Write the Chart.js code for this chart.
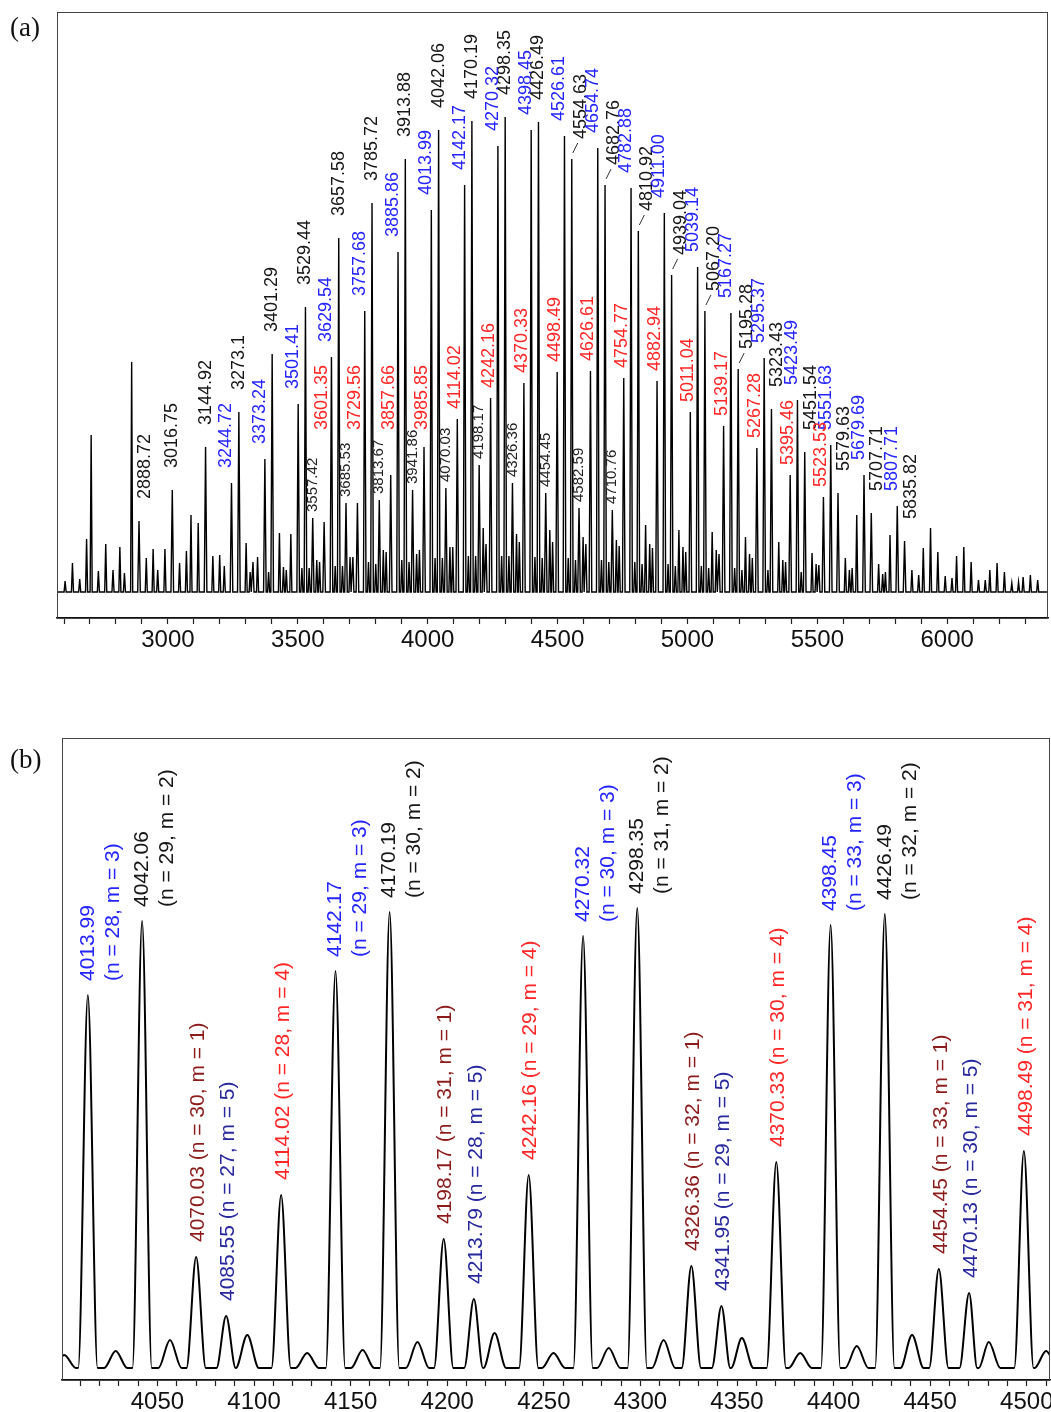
<!DOCTYPE html>
<html>
<head>
<meta charset="utf-8">
<title>MALDI spectrum</title>
<script src="https://cdn.jsdelivr.net/npm/chart.js@4.4.1/dist/chart.umd.min.js"></script>
<style>
  html, body { margin: 0; padding: 0; background: #fff; }
  #page { position: relative; width: 1051px; height: 1412px; overflow: hidden; }
  .panel { position: absolute; left: 0; width: 1051px; }
  #overview-wrap { top: 0; height: 680px; }
  #zoom-wrap { top: 690px; height: 722px; }
  .tag { position: absolute; font-family: "Liberation Serif", "Times New Roman", serif; font-size: 27px; color: #111; }
</style>
</head>
<body>
<div id="page">
  <div class="panel" id="overview-wrap"><canvas id="overview" width="1051" height="680"></canvas></div>
  <div class="panel" id="zoom-wrap"><canvas id="zoom" width="1051" height="722"></canvas></div>
  <div class="tag" style="left:10px; top:12px">(a)</div>
  <div class="tag" style="left:10px; top:744px">(b)</div>
</div>
<script>
// ---------- (a) full range, intensities in a.u. above baseline ----------
const overviewTickLabels = [3000, 3500, 4000, 4500, 5000, 5500, 6000];
const overviewMinorTicks = [2600, 2700, 2800, 2900, 3100, 3200, 3300, 3400, 3600, 3700, 3800, 3900,
  4100, 4200, 4300, 4400, 4600, 4700, 4800, 4900, 5100, 5200, 5300, 5400, 5600, 5700, 5800, 5900,
  6100, 6200, 6300];

// m = 2 series (black labels)
const m2Mz = ['2888.72', '3016.75', '3144.92', '3273.1', '3401.29', '3529.44', '3657.58', '3785.72',
  '3913.88', '4042.06', '4170.19', '4298.35', '4426.49', '4554.63', '4682.76', '4810.92', '4939.04',
  '5067.20', '5195.28', '5323.43', '5451.54', '5579.63', '5707.71', '5835.82'];
const m2Int = [71, 102, 145, 180, 238, 285, 354, 389, 433, 462, 471, 475, 470, 433, 407, 361, 317,
  281, 223, 183, 140, 99, 79, 51];

// m = 3 series (blue labels)
const m3Mz = ['3244.72', '3373.24', '3501.41', '3629.54', '3757.68', '3885.86', '4013.99', '4142.17',
  '4270.32', '4398.45', '4526.61', '4654.74', '4782.88', '4911.00', '5039.14', '5167.27', '5295.37',
  '5423.49', '5551.63', '5679.69', '5807.71'];
const m3Int = [109, 133, 188, 235, 281, 340, 382, 407, 446, 462, 456, 444, 404, 379, 325, 279, 234,
  192, 147, 117, 86];

// m = 4 series (red labels)
const m4Mz = ['3601.35', '3729.56', '3857.66', '3985.85', '4114.02', '4242.16', '4370.33', '4498.49',
  '4626.61', '4754.77', '4882.94', '5011.04', '5139.17', '5267.28', '5395.46', '5523.53'];
const m4Int = [70, 89, 117, 145, 173, 194, 209, 220, 221, 214, 211, 180, 166, 144, 117, 95];

// m = 1 series (small labels)
const m1Mz = ['3557.42', '3685.53', '3813.67', '3941.86', '4070.03', '4198.17', '4326.36', '4454.45',
  '4582.59', '4710.76'];
const m1Int = [74, 89, 92, 102, 104, 127, 109, 99, 84, 82];

// unlabelled peaks (series continuations, m = 5 and satellites)
const otherMz = [
  2604.2, 2632.5, 2660.4, 2686.9, 2704.5, 2732.3, 2760.6, 2788.6, 2815.0, 2832.6, 2860.4, 2916.7,
  2943.1, 2960.7, 2988.5, 3044.8, 3071.2, 3088.8, 3116.6, 3173.0, 3199.3, 3217.0, 3301.1, 3316.6,
  3327.5, 3345.1, 3387.6, 3429.3, 3444.8, 3455.7, 3473.2, 3515.8, 3543.8, 3573.0, 3583.8, 3644.0,
  3672.0, 3701.1, 3712.0, 3772.1, 3800.1, 3829.2, 3840.1, 3900.3, 3928.3, 3957.4, 3968.3, 4028.4,
  4056.5, 4085.6, 4096.5, 4156.6, 4184.6, 4213.8, 4224.6, 4284.7, 4312.8, 4342.0, 4352.8, 4412.9,
  4440.9, 4470.1, 4480.9, 4541.0, 4569.0, 4598.3, 4609.0, 4669.1, 4697.2, 4726.4, 4737.2, 4797.3,
  4825.3, 4838.9, 4854.6, 4865.3, 4925.4, 4953.4, 4967.1, 4982.7, 4993.4, 5053.5, 5081.6, 5095.2,
  5110.9, 5121.6, 5181.7, 5209.7, 5223.4, 5239.0, 5249.7, 5309.8, 5351.5, 5367.1, 5377.8, 5437.9,
  5479.7, 5495.3, 5505.9, 5607.8, 5623.4, 5634.0, 5651.7, 5736.0, 5751.5, 5762.1, 5779.8, 5864.1,
  5890.2, 5907.9, 5935.8, 5963.9, 5992.3, 6018.4, 6036.0, 6063.9, 6092.1, 6120.4, 6146.5, 6164.1,
  6192.0, 6220.2, 6248.6, 6274.6, 6292.2, 6320.1, 6348.3];
const otherInt = [
  11, 29, 13, 53, 157, 21, 48, 22, 45, 19, 230, 34,
  43, 22, 43, 29, 41, 77, 69, 36, 37, 26, 49, 20,
  30, 35, 20, 59, 25, 22, 58, 24, 24, 32, 30, 26,
  26, 35, 35, 30, 28, 42, 40, 32, 30, 38, 42, 34,
  34, 45, 45, 36, 36, 64, 48, 36, 36, 58, 50, 35,
  34, 62, 50, 34, 32, 55, 48, 32, 30, 52, 46, 30,
  28, 67, 48, 44, 28, 26, 62, 45, 40, 26, 24, 60,
  42, 38, 24, 22, 55, 38, 34, 22, 50, 32, 30, 20,
  39, 28, 27, 34, 22, 24, 77, 28, 18, 20, 57, 22,
  17, 44, 64, 40, 16, 14, 36, 45, 30, 12, 12, 22,
  29, 20, 9, 10, 15, 17, 12];

// ---------- (b) expanded 4000-4510 region ----------
const zoomTickLabels = [4050, 4100, 4150, 4200, 4250, 4300, 4350, 4400, 4450, 4500];
const zoomMinorTicks = [4010, 4020, 4030, 4040, 4060, 4070, 4080, 4090, 4110, 4120, 4130, 4140,
  4160, 4170, 4180, 4190, 4210, 4220, 4230, 4240, 4260, 4270, 4280, 4290, 4310, 4320, 4330, 4340,
  4360, 4370, 4380, 4390, 4410, 4420, 4430, 4440, 4460, 4470, 4480, 4490, 4510];

const zoomMz = ['4013.99', '4042.06', '4070.03', '4085.55', '4114.02', '4142.17', '4170.19', '4198.17',
  '4213.79', '4242.16', '4270.32', '4298.35', '4326.36', '4341.95', '4370.33', '4398.45', '4426.49',
  '4454.45', '4470.13', '4498.49'];
const zoomN = [28, 29, 30, 27, 28, 29, 30, 31, 28, 29, 30, 31, 32, 29, 30, 33, 32, 33, 30, 31];
const zoomM = [3, 2, 1, 5, 4, 3, 2, 1, 5, 4, 3, 2, 1, 5, 4, 3, 2, 1, 5, 4];
const zoomInt = [373, 447, 111, 52, 173, 397, 456, 129, 69, 193, 432, 460, 102, 62, 206, 443, 454,
  99, 75, 217];

const zoomMinorMz = [4001.8, 4028.4, 4056.5, 4096.5, 4127.5, 4156.2, 4184.6, 4224.5, 4255.0, 4283.6,
  4312.0, 4352.5, 4382.7, 4412.0, 4440.6, 4480.3, 4510.0];
const zoomMinorInt = [13, 17, 28, 33, 15, 18, 26, 35, 15, 20, 28, 30, 15, 22, 33, 26, 17];

// ---------- helpers ----------
const SANS = '"Liberation Sans", Arial, Helvetica, sans-serif';
const mColor = { 1: '#8c1c1c', 2: '#161616', 3: '#2424ff', 4: '#ff2626', 5: '#27279e' };

// each peak becomes foot - apex - foot, so the trace returns to baseline between peaks
function peakTrace(peaks, xMin, xMax) {
  const pts = [{ x: xMin, y: 0 }];
  peaks.sort((a, b) => a.mz - b.mz).forEach(p => {
    pts.push({ x: p.mz - p.w, y: 0 }, { x: p.mz, y: p.h }, { x: p.mz + p.w, y: 0 });
  });
  pts.push({ x: xMax, y: 0 });
  pts.sort((a, b) => a.x - b.x);
  return pts;
}

function tickedAxis(min, max, majors, minors, height) {
  const all = majors.concat(minors).sort((a, b) => a - b);
  return {
    type: 'linear', min, max,
    afterBuildTicks: s => { s.ticks = all.map(v => ({ value: v })); },
    afterFit: s => { s.height = height; },
    ticks: {
      autoSkip: false, maxRotation: 0, padding: 2, color: '#111',
      font: { family: SANS, size: 24 },
      callback: v => (majors.includes(v) ? String(v) : '')
    },
    grid: { drawOnChartArea: false, drawTicks: true, tickLength: 6, color: '#222', tickWidth: 1.2 },
    border: { display: true, color: '#111', width: 1.5 }
  };
}

const frame = {
  id: 'frame',
  afterDraw(chart) {
    const { ctx, chartArea: a } = chart;
    ctx.save();
    ctx.strokeStyle = '#444';
    ctx.lineWidth = 1;
    ctx.strokeRect(a.left + 0.5, a.top + 0.5, a.right - a.left - 1, a.bottom - a.top);
    ctx.restore();
  }
};

// rotated text labels; each item: {mz, h, lines, color, size, gap, dx, floor, leader}
const peakLabels = {
  id: 'peakLabels',
  afterDatasetsDraw(chart, args, opts) {
    const { ctx, scales: { x, y } } = chart;
    ctx.save();
    opts.items.forEach(it => {
      const px = x.getPixelForValue(it.mz) + (it.dx || 0);
      const top = y.getPixelForValue(it.h);
      let start = top - it.gap;
      if (it.floor !== undefined) start = Math.min(start, y.getPixelForValue(it.floor));
      if (it.leader) {
        const lx = x.getPixelForValue(it.mz);
        ctx.strokeStyle = '#333';
        ctx.lineWidth = 1;
        ctx.beginPath();
        ctx.moveTo(lx + 1, top - 6);
        ctx.lineTo(lx + 6, top - 16);
        ctx.stroke();
      }
      ctx.fillStyle = it.color;
      ctx.font = it.size + 'px ' + SANS;
      ctx.textAlign = 'left';
      ctx.textBaseline = 'middle';
      it.lines.forEach((txt, i) => {
        ctx.save();
        ctx.translate(px + i * (it.lineStep || 0), start);
        ctx.rotate(-Math.PI / 2);
        ctx.fillText(txt, 0, 0);
        ctx.restore();
      });
    });
    ctx.restore();
  }
};

// ---------- (a) ----------
const OV_MIN = 2573, OV_MAX = 6388;
const ovPeaks = [];
const ovLabels = [];
const leaderLabels = ['4554.63', '4682.76', '4810.92', '4939.04', '5067.20', '5195.28'];

[[m2Mz, m2Int, mColor[2], 18, 22, 0],
 [m3Mz, m3Int, mColor[3], 18, 15, -5],
 [m4Mz, m4Int, mColor[4], 18, 10, -2],
 [m1Mz, m1Int, '#222', 15, 6, 0]].forEach(([mzs, ints, color, size, gap, dx]) => {
  mzs.forEach((s, i) => {
    const mz = parseFloat(s);
    ovPeaks.push({ mz, h: ints[i], w: 5 });
    const item = { mz, h: ints[i], lines: [s], color, size, gap, dx };
    if (color === mColor[2]) {
      if (leaderLabels.includes(s)) { item.leader = true; item.dx = 9; item.gap = 20; }
      else if (mz > 5300 || mz < 2900) item.dx = 6;
    }
    // the weak early red peaks carry their labels at a common height
    if (color === mColor[4] && mz < 4050) item.floor = 162;
    ovLabels.push(item);
  });
});
otherMz.forEach((mz, i) => ovPeaks.push({ mz, h: otherInt[i], w: 4 }));

new Chart(document.getElementById('overview'), {
  type: 'line',
  data: {
    datasets: [{
      data: peakTrace(ovPeaks, OV_MIN, OV_MAX),
      borderColor: '#000', borderWidth: 1.4, pointRadius: 0, tension: 0, fill: false
    }]
  },
  options: {
    responsive: false, animation: false, devicePixelRatio: 1,
    layout: { padding: { left: 57, right: 3, top: 12, bottom: 0 } },
    plugins: { legend: { display: false }, tooltip: { enabled: false }, peakLabels: { items: ovLabels } },
    scales: {
      x: tickedAxis(OV_MIN, OV_MAX, overviewTickLabels, overviewMinorTicks, 62),
      y: { display: false, min: -26, max: 580 }
    }
  },
  plugins: [frame, peakLabels]
});

// ---------- (b) ----------
const ZM_MIN = 4000.6, ZM_MAX = 4512;
const zmPeaks = [];
const zmLabels = [];
zoomMz.forEach((s, i) => {
  const mz = parseFloat(s);
  const m = zoomM[i];
  zmPeaks.push({ mz, h: zoomInt[i], w: 5 });
  const tag = '(n = ' + zoomN[i] + ', m = ' + m + ')';
  if (m === 2 || m === 3) {
    zmLabels.push({ mz, h: zoomInt[i], lines: [s, tag], lineStep: 25, color: mColor[m], size: 21, gap: 14, dx: 0 });
  } else {
    zmLabels.push({ mz, h: zoomInt[i], lines: [s + ' ' + tag], color: mColor[m], size: 21, gap: 15, dx: 2 });
  }
});
zoomMinorMz.forEach((mz, i) => zmPeaks.push({ mz, h: zoomMinorInt[i], w: 6 }));

new Chart(document.getElementById('zoom'), {
  type: 'line',
  data: {
    datasets: [{
      data: peakTrace(zmPeaks, 3990, 4520),
      borderColor: '#000', borderWidth: 2, pointRadius: 0,
      cubicInterpolationMode: 'monotone', fill: false
    }]
  },
  options: {
    responsive: false, animation: false, devicePixelRatio: 1,
    layout: { padding: { left: 62, right: 1, top: 48, bottom: 0 } },
    plugins: { legend: { display: false }, tooltip: { enabled: false }, peakLabels: { items: zmLabels } },
    scales: {
      x: tickedAxis(ZM_MIN, ZM_MAX, zoomTickLabels, zoomMinorTicks, 32),
      y: { display: false, min: -12, max: 630 }
    }
  },
  plugins: [frame, peakLabels]
});
</script>
</body>
</html>
